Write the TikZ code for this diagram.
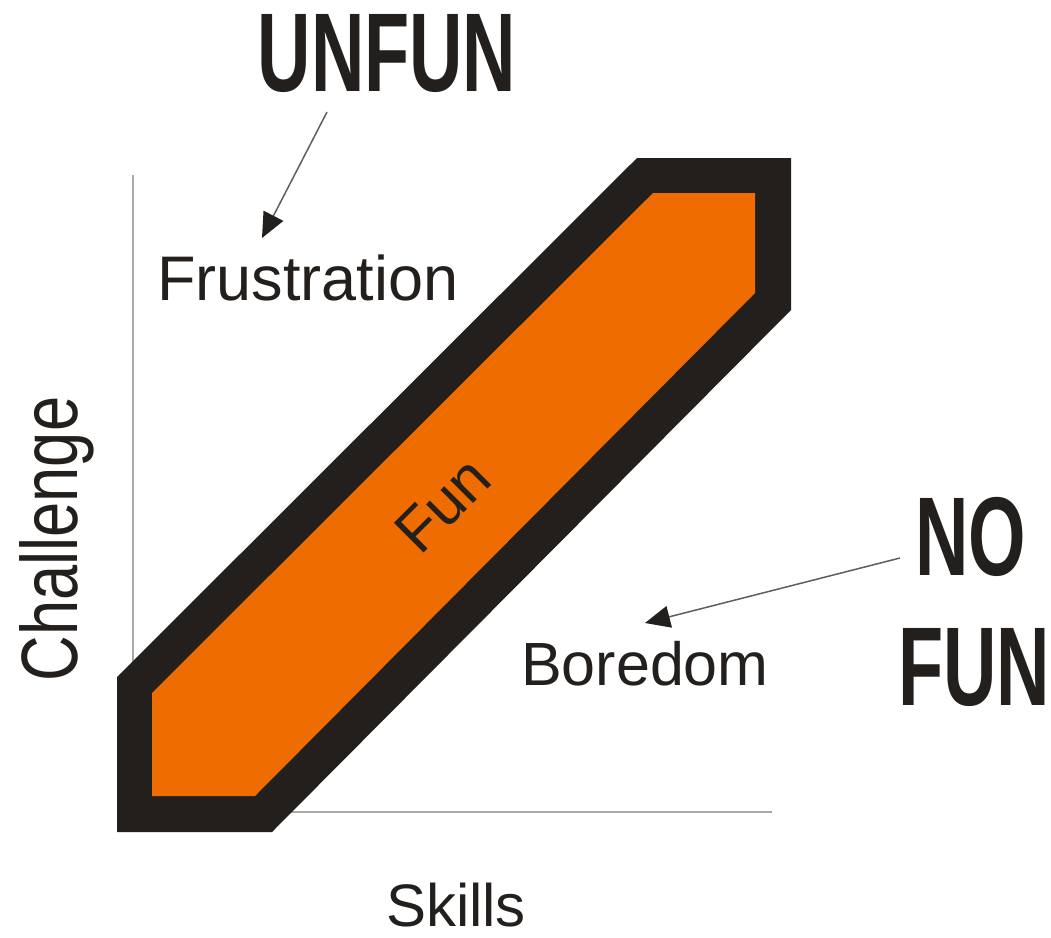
\documentclass[tikz,border=0pt]{standalone}
\usepackage{fontspec}
\setmainfont{Liberation Sans}
\usetikzlibrary{arrows.meta}
\definecolor{band}{HTML}{EE6C00}
\definecolor{ink}{HTML}{231F1C}
\definecolor{rule}{HTML}{A8A8A8}
\definecolor{wire}{HTML}{5E5E5E}

\begin{document}
\begin{tikzpicture}[
  x=1pt, y=-1pt,
  zone/.style={inner sep=0pt, text=ink, font=\fontsize{61}{61}\selectfont},
  shout/.style={inner sep=0pt, text=ink, font=\fontsize{112}{112}\selectfont\bfseries},
  axis/.style={draw=rule, line width=2pt},
  pointer/.style={-{Triangle[length=25pt,width=22pt,color=ink]}, line width=1.5pt, draw=wire}
]
  \useasboundingbox (0,0) rectangle (1051,937);

  % axes
  \draw[axis] (133,175) -- (133,700);
  \draw[axis] (250,812) -- (772,812);

  % the flow band
  \fill[ink] (117,677) -- (637,158) -- (791,158) -- (791,310) -- (272,832) -- (117,832) -- cycle;
  \fill[band] (152,693) -- (653,193) -- (755,193) -- (755,293) -- (255,796) -- (152,796) -- cycle;

  \node[zone, rotate=45] (fun) at (443,505) {Fun};
  \node[zone, font=\fontsize{63}{63}\selectfont, anchor=base west] (frustration) at (157,300) {Frustration};
  \node[zone, anchor=base west] (boredom) at (521,685) {Boredom};
  \node[zone, font=\fontsize{60}{60}\selectfont, anchor=base] (skills) at (456,926) {Skills};
  \node[zone, font=\fontsize{80}{80}\selectfont, rotate=90, anchor=base] (challenge) at (77,539) {\scalebox{0.79}[1]{Challenge}};

  \node[shout, anchor=base] (unfun) at (387,91) {\scalebox{0.66}[1]{UNFUN}};
  \node[shout, anchor=base] (no) at (971,575) {\scalebox{0.66}[1]{NO}};
  \node[shout, anchor=base] (nofun) at (974,705) {\scalebox{0.66}[1]{FUN}};

  \coordinate (unfun foot) at (327,112);
  \coordinate (frustration tip) at (262,238);
  \coordinate (nofun foot) at (900,558);
  \coordinate (boredom tip) at (645,623);

  \draw[pointer] (unfun foot) -- (frustration tip);
  \draw[pointer] (nofun foot) -- (boredom tip);
\end{tikzpicture}
\end{document}
